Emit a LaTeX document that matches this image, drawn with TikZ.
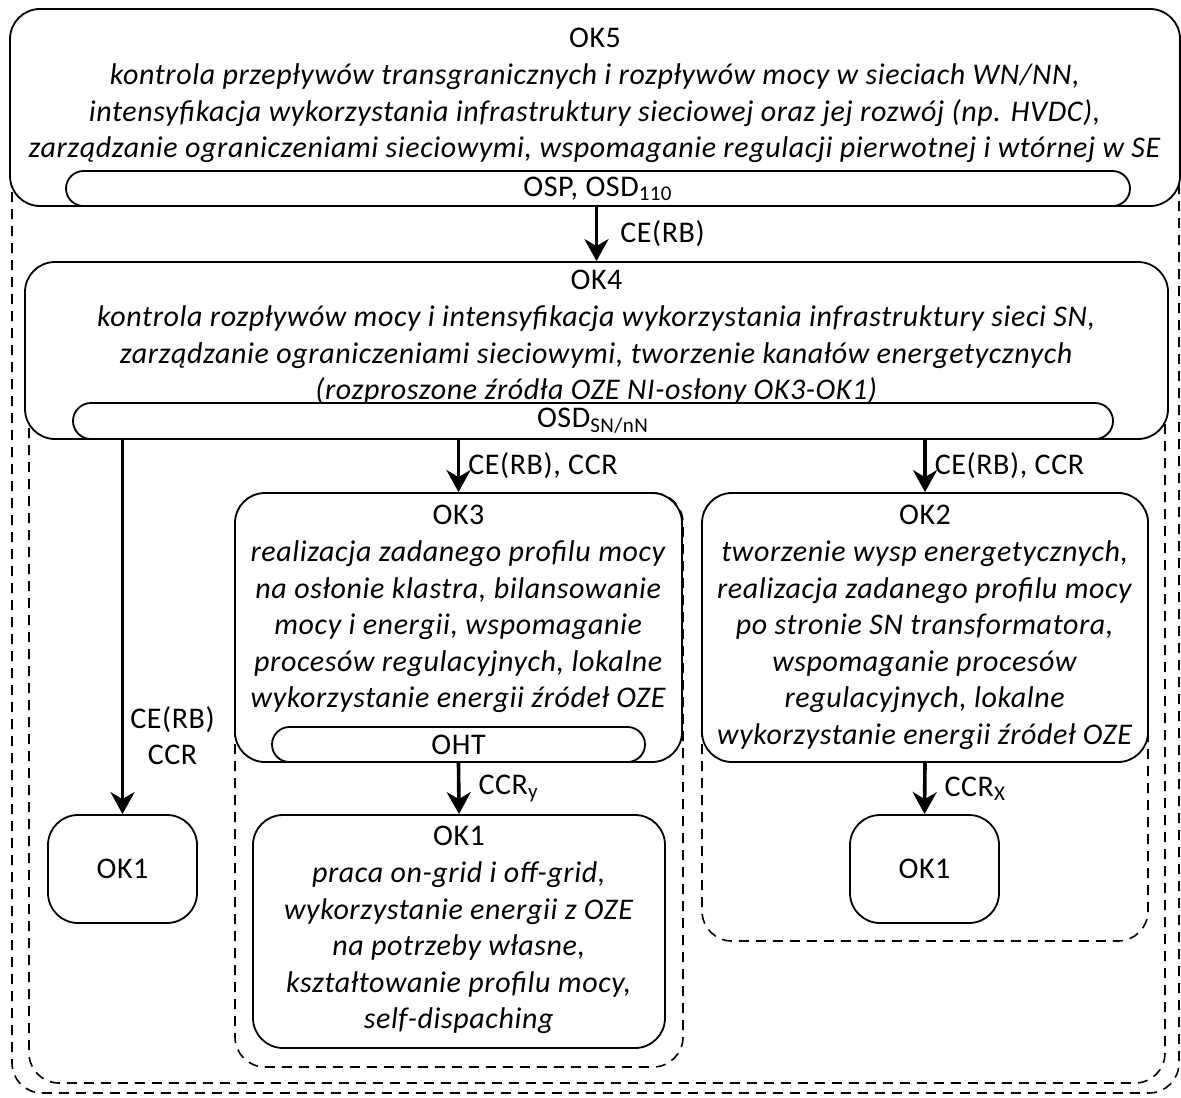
\documentclass[tikz,border=0pt]{standalone}
\usepackage{fontspec}
\setmainfont{Carlito}[LetterSpace = 2]
\usetikzlibrary{arrows.meta, positioning}

\tikzset{
    blok/.style = {draw, fill = white, rounded corners = 15pt, line width = 0.9pt, inner sep = 0pt},
    pasek/.style = {draw, fill = white, rounded corners = 8.75pt, line width = 0.9pt, inner sep = 0pt, minimum height = 17.5pt},
    ramka/.style = {line width = 0.8pt, dash pattern = on 5pt off 3.5pt, rounded corners = 15pt},
    strzalka/.style = {line width = 1.8pt, -{Stealth[length = 11pt, width = 12pt, inset = 3.5pt]}},
    tekst/.style = {align = center, inner sep = 0pt, anchor = north},
    etykieta/.style = {inner sep = 0pt, align = center}
}

\begin{document}
\begin{tikzpicture}[x = 0.5pt, y = -0.5pt, font = \fontsize{15}{18.3}\selectfont]
    \useasboundingbox (0,0) rectangle (1181,1097);
    % Ramki przerywane
    \draw[ramka] (12,9) rectangle (1179,1093);
    \draw[ramka] (29,262) rectangle (1165,1083);
    \draw[ramka] (235,493) rectangle (683,1067);
    \draw[ramka] (702,493) rectangle (1148,941);
    % OK5
    \node[blok, minimum width = 585pt, minimum height = 98.5pt] (ok5) at (595,107.5) {};
    \node[tekst] (t5) at (595,28) {OK5\\
        \textit{kontrola przepływów transgranicznych i rozpływów mocy w sieciach WN/NN,}\\
        \textit{intensyfikacja wykorzystania infrastruktury sieciowej oraz jej rozwój (np. HVDC),}\\
        \textit{zarządzanie ograniczeniami sieciowymi, wspomaganie regulacji pierwotnej i wtórnej w SE}};
    \node[pasek, minimum width = 532pt] (osp) at (598,188.5) {OSP, OSD\textsubscript{110}};
    % OK4
    \node[blok, minimum width = 571.5pt, minimum height = 88.5pt] (ok4) at (596.5,350.5) {};
    \node[tekst] (t4) at (596.5,270) {OK4\\
        \textit{kontrola rozpływów mocy i intensyfikacja wykorzystania infrastruktury sieci SN,}\\
        \textit{zarządzanie ograniczeniami sieciowymi, tworzenie kanałów energetycznych}\\
        \textit{(rozproszone źródła OZE NI-osłony OK3-OK1)}};
    \node[pasek, minimum width = 520pt, minimum height = 18pt, rounded corners = 9pt] (osd) at (593,421) {OSD\textsubscript{SN/nN}};
    % OK3
    \node[blok, minimum width = 223.5pt, minimum height = 134.5pt] (ok3) at (458.5,627.5) {};
    \node[tekst] (t3) at (458.5,505) {OK3\\
        \textit{realizacja zadanego profilu mocy}\\
        \textit{na osłonie klastra, bilansowanie}\\
        \textit{mocy i energii, wspomaganie}\\
        \textit{procesów regulacyjnych, lokalne}\\
        \textit{wykorzystanie energii źródeł OZE}};
    \node[pasek, minimum width = 186.5pt] (oht) at (458.5,744.5) {OHT};
    % OK2
    \node[blok, minimum width = 223pt, minimum height = 134.5pt] (ok2) at (925,627.5) {};
    \node[tekst] (t2) at (925,505) {OK2\\
        \textit{tworzenie wysp energetycznych,}\\
        \textit{realizacja zadanego profilu mocy}\\
        \textit{po stronie SN transformatora,}\\
        \textit{wspomaganie procesów}\\
        \textit{regulacyjnych, lokalne}\\
        \textit{wykorzystanie energii źródeł OZE}};
    % OK1
    \node[blok, minimum width = 74.5pt, minimum height = 54pt] (ok1a) at (122.5,869) {OK1};
    \node[blok, minimum width = 206pt, minimum height = 116.5pt] (ok1b) at (459,931.5) {};
    \node[tekst] (t1) at (459,826) {OK1\\
        \textit{praca on-grid i off-grid,}\\
        \textit{wykorzystanie energii z OZE}\\
        \textit{na potrzeby własne,}\\
        \textit{kształtowanie profilu mocy,}\\
        \textit{self-dispaching}};
    \node[blok, minimum width = 74.5pt, minimum height = 54pt] (ok1c) at (924.5,869) {OK1};
    % Strzalki
    \draw[strzalka] (ok4.north |- ok5.south) -- (ok4.north)
        node[etykieta, midway, right = 11pt] {CE(RB)};
    \draw[strzalka] (ok1a.north |- ok4.south) -- (ok1a.north)
        node[etykieta, pos = 0.79, right = 3pt] {CE(RB)\\ CCR};
    \draw[strzalka] (ok3.north |- ok4.south) -- (ok3.north)
        node[etykieta, midway, right = 4pt] {CE(RB), CCR};
    \draw[strzalka] (ok2.north |- ok4.south) -- (ok2.north)
        node[etykieta, midway, right = 4pt] {CE(RB), CCR};
    \draw[strzalka] (ok3.south) -- (ok1b.north)
        node[etykieta, midway, right = 9pt] {CCR\textsubscript{y}};
    \draw[strzalka] (ok2.south) -- (ok1c.north)
        node[etykieta, midway, right = 9pt] {CCR\textsubscript{X}};
\end{tikzpicture}
\end{document}
